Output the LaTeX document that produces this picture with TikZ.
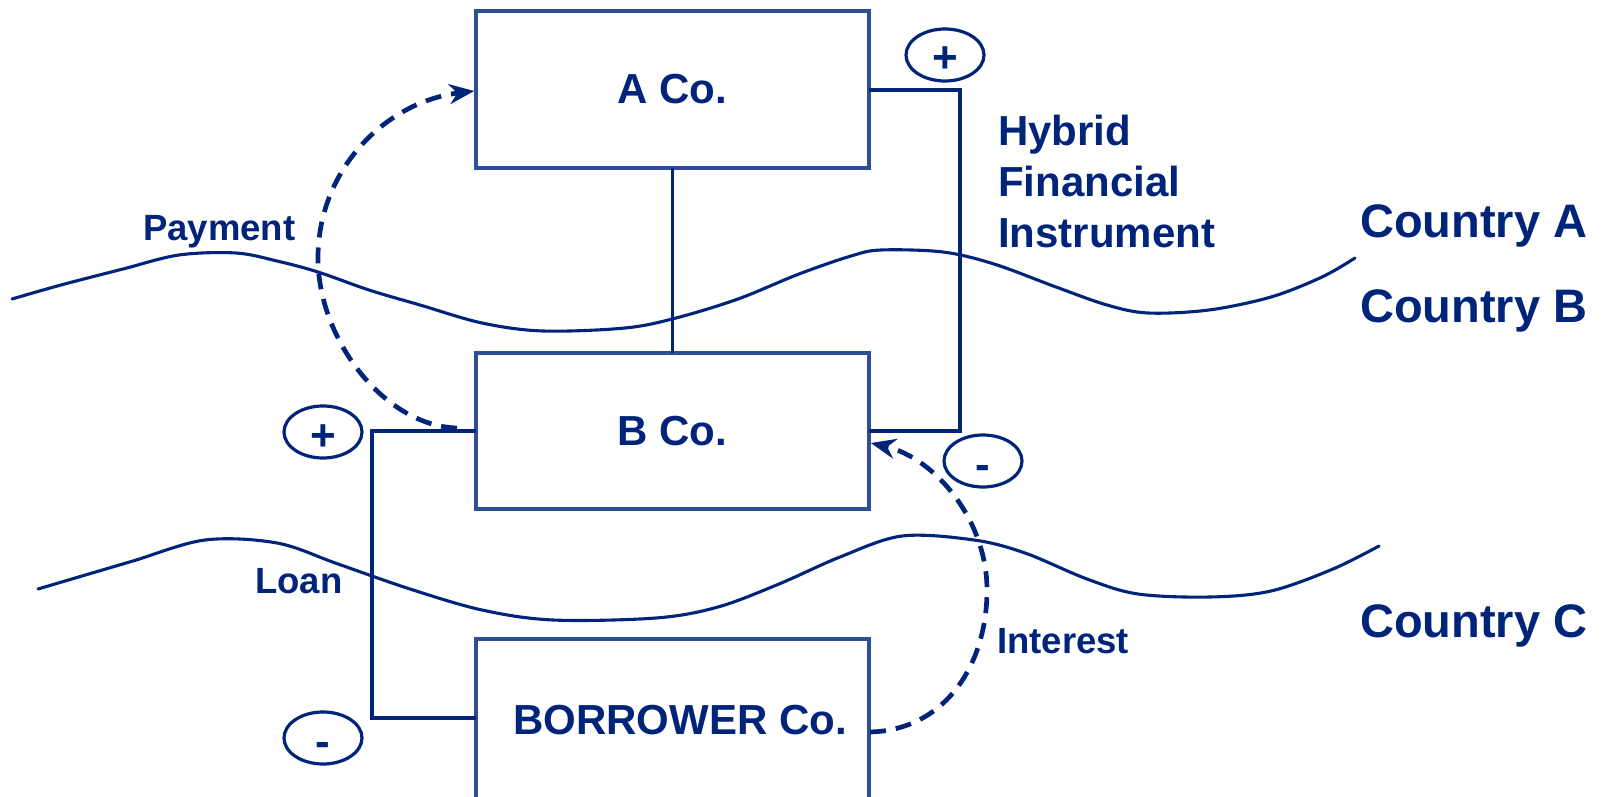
\documentclass[tikz,border=0pt]{standalone}
\usepackage{fontspec}
\setmainfont{Liberation Sans}
\usetikzlibrary{arrows.meta,shapes.geometric}
\definecolor{navy}{HTML}{00247A}
\definecolor{boxblue}{HTML}{2F4E95}
\tikzset{
  company/.style={draw=boxblue, line width=3.6pt, minimum width=393pt, inner sep=0pt,
    text=navy, font=\fontsize{42}{50}\selectfont\bfseries},
  link/.style={draw=navy, line width=4.4pt, line cap=rect},
  flow/.style={draw=navy, line width=4.7pt, dash pattern=on 16pt off 10pt,
    -{Stealth[length=25pt,width=20pt]}},
  border/.style={draw=navy, line width=3.1pt, line join=round, line cap=round},
  sign/.style={ellipse, draw=navy, line width=3.2pt, minimum width=78pt, minimum height=52pt,
    inner sep=0pt, text=navy, text height=36pt, text depth=0pt,
    font=\fontsize{44}{50}\selectfont\bfseries},
  lbl/.style={text=navy, inner sep=0pt, anchor=base west, font=\fontsize{36.5}{44}\selectfont\bfseries},
  country/.style={text=navy, inner sep=0pt, anchor=base west, font=\fontsize{47}{54}\selectfont\bfseries},
}
\begin{document}
\begin{tikzpicture}[x=1pt,y=-1pt]
\useasboundingbox (0,0) rectangle (1607,797);

% boundaries between the countries
\draw[border] plot[smooth, tension=0.55] coordinates {
  (12,299) (61,285) (123,269) (179,255) (236,253) (277,261) (318,272) (369,290)
  (420,305) (482,323) (543,331) (625,328) (676,318) (738,299) (799,274) (851,256)
  (881,250) (943,252) (994,264) (1056,287) (1107,305) (1148,313) (1209,310)
  (1271,297) (1322,277) (1355,258)};
\draw[border] plot[smooth, tension=0.55] coordinates {
  (38,589) (82,576) (133,561) (205,540) (277,543) (338,564) (410,589) (482,610)
  (553,620) (656,618) (718,607) (779,584) (840,557) (902,536) (974,540) (1025,553)
  (1087,579) (1138,594) (1210,597) (1271,591) (1333,569) (1379,546)};

% companies
\node[company, minimum height=157pt] (aco) at (672.5,89.5) {A Co.};
\node[company, minimum height=156pt] (bco) at (672.5,431) {B Co.};
\node[company, minimum height=164pt] (borrower) at (672.5,721) {};
\node[text=navy, inner sep=0pt, font=\fontsize{42}{50}\selectfont\bfseries] (borrowertext) at (680,720) {BORROWER Co.};

% ownership link
\draw[link, line width=3.4pt] (aco.south) -- (bco.north);

% hybrid financial instrument and loan
\coordinate (hybA) at (960,90);
\coordinate (hybB) at (960,431);
\draw[link] (aco.east |- hybA) -- (hybA) -- (hybB) -- (bco.east |- hybB);
\coordinate (loanB) at (372,431);
\coordinate (loanC) at (372,718);
\draw[link] (bco.west |- loanB) -- (loanB) -- (loanC) -- (borrower.west |- loanC);

% signs
\node[sign] (plusA) at (945,55) {+};
\node[sign] (minusB) at (983,461) {-};
\node[sign] (plusB) at (323,432) {+};
\node[sign] (minusC) at (323,738) {-};

% payment and interest flows
\coordinate (payS) at (457,428);
\coordinate (payL) at (318,258);
\coordinate (intS) at (870,732);
\coordinate (intR) at (987,590);
\draw[flow] (payS) .. controls (385,426) and (318,340) .. (payL)
  .. controls (318,170) and (385,102) .. (aco.west |- 0,91);
\draw[flow] (intS) .. controls (945,730) and (987,665) .. (intR)
  .. controls (987,520) and (935,458) .. (bco.east |- 0,443);

% labels
\node[lbl] (payment) at (143,240) {Payment};
\node[lbl] (loan) at (255,593) {Loan};
\node[lbl] (interest) at (997,653) {Interest};
\node[text=navy, inner sep=0pt, anchor=north west, align=left,
  font=\fontsize{42}{51}\selectfont\bfseries] (hybrid) at (998,115)
  {Hybrid\\Financial\\Instrument};

\node[country] (ctyA) at (1360,237) {Country A};
\node[country] (ctyB) at (1360,322) {Country B};
\node[country] (ctyC) at (1360,637) {Country C};
\end{tikzpicture}
\end{document}
